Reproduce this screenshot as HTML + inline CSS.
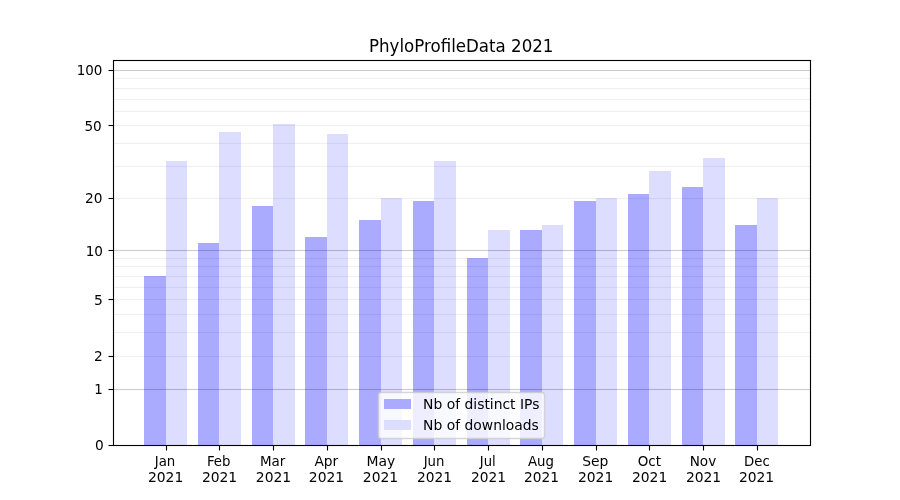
<!DOCTYPE html>
<html lang="en">
<head>
<meta charset="utf-8">
<title>PhyloProfileData 2021</title>
<style>
html,body{margin:0;padding:0;background:#fff;}
body{width:900px;height:500px;overflow:hidden;}
svg{display:block;}
text{font-family:"DejaVu Sans","Liberation Sans",sans-serif;fill:#000;}
.t10{font-size:13.8889px;}
.t12{font-size:16.6667px;}
.bar{shape-rendering:crispEdges;}
</style>
</head>
<body>
<svg width="900" height="500" viewBox="0 0 900 500">
<rect x="0" y="0" width="900" height="500" fill="#ffffff"/>
<g class="bar">
<rect x="144" y="276" width="22" height="169" fill="#aaaaff"/>
<rect x="166" y="161" width="21" height="284" fill="#ddddff"/>
<rect x="198" y="243" width="21" height="202" fill="#aaaaff"/>
<rect x="219" y="132" width="22" height="313" fill="#ddddff"/>
<rect x="252" y="206" width="21" height="239" fill="#aaaaff"/>
<rect x="273" y="124" width="22" height="321" fill="#ddddff"/>
<rect x="305" y="237" width="22" height="208" fill="#aaaaff"/>
<rect x="327" y="134" width="21" height="311" fill="#ddddff"/>
<rect x="359" y="220" width="22" height="225" fill="#aaaaff"/>
<rect x="381" y="198" width="21" height="247" fill="#ddddff"/>
<rect x="413" y="201" width="21" height="244" fill="#aaaaff"/>
<rect x="434" y="161" width="22" height="284" fill="#ddddff"/>
<rect x="467" y="258" width="21" height="187" fill="#aaaaff"/>
<rect x="488" y="230" width="22" height="215" fill="#ddddff"/>
<rect x="520" y="230" width="22" height="215" fill="#aaaaff"/>
<rect x="542" y="225" width="21" height="220" fill="#ddddff"/>
<rect x="574" y="201" width="22" height="244" fill="#aaaaff"/>
<rect x="596" y="198" width="21" height="247" fill="#ddddff"/>
<rect x="628" y="194" width="21" height="251" fill="#aaaaff"/>
<rect x="649" y="171" width="22" height="274" fill="#ddddff"/>
<rect x="682" y="187" width="21" height="258" fill="#aaaaff"/>
<rect x="703" y="158" width="22" height="287" fill="#ddddff"/>
<rect x="735" y="225" width="22" height="220" fill="#aaaaff"/>
<rect x="757" y="198" width="21" height="247" fill="#ddddff"/>
</g>
<g stroke="#000" stroke-width="1.1111" fill="none">
<g stroke-opacity="0.2">
<line x1="113.5" y1="389.5" x2="810.5" y2="389.5"/>
<line x1="113.5" y1="250.5" x2="810.5" y2="250.5"/>
<line x1="113.5" y1="70.5" x2="810.5" y2="70.5"/>
</g>
<g stroke-opacity="0.06">
<line x1="113.5" y1="78.5" x2="810.5" y2="78.5"/>
<line x1="113.5" y1="88.5" x2="810.5" y2="88.5"/>
<line x1="113.5" y1="99.5" x2="810.5" y2="99.5"/>
<line x1="113.5" y1="111.5" x2="810.5" y2="111.5"/>
<line x1="113.5" y1="125.5" x2="810.5" y2="125.5"/>
<line x1="113.5" y1="143.5" x2="810.5" y2="143.5"/>
<line x1="113.5" y1="166.5" x2="810.5" y2="166.5"/>
<line x1="113.5" y1="198.5" x2="810.5" y2="198.5"/>
<line x1="113.5" y1="258.5" x2="810.5" y2="258.5"/>
<line x1="113.5" y1="266.5" x2="810.5" y2="266.5"/>
<line x1="113.5" y1="276.5" x2="810.5" y2="276.5"/>
<line x1="113.5" y1="287.5" x2="810.5" y2="287.5"/>
<line x1="113.5" y1="299.5" x2="810.5" y2="299.5"/>
<line x1="113.5" y1="314.5" x2="810.5" y2="314.5"/>
<line x1="113.5" y1="332.5" x2="810.5" y2="332.5"/>
<line x1="113.5" y1="356.5" x2="810.5" y2="356.5"/>
</g>
<g class="bar" fill="#000" stroke="none">
<g fill-opacity="0.011">
<rect x="114" y="388" width="696" height="1"/><rect x="114" y="390" width="696" height="1"/>
<rect x="114" y="249" width="696" height="1"/><rect x="114" y="251" width="696" height="1"/>
<rect x="114" y="69" width="696" height="1"/><rect x="114" y="71" width="696" height="1"/>
</g>
<g fill-opacity="0.0036">
<rect x="114" y="77" width="696" height="1"/><rect x="114" y="79" width="696" height="1"/>
<rect x="114" y="87" width="696" height="1"/><rect x="114" y="89" width="696" height="1"/>
<rect x="114" y="98" width="696" height="1"/><rect x="114" y="100" width="696" height="1"/>
<rect x="114" y="110" width="696" height="1"/><rect x="114" y="112" width="696" height="1"/>
<rect x="114" y="124" width="696" height="1"/><rect x="114" y="126" width="696" height="1"/>
<rect x="114" y="142" width="696" height="1"/><rect x="114" y="144" width="696" height="1"/>
<rect x="114" y="165" width="696" height="1"/><rect x="114" y="167" width="696" height="1"/>
<rect x="114" y="197" width="696" height="1"/><rect x="114" y="199" width="696" height="1"/>
<rect x="114" y="257" width="696" height="1"/><rect x="114" y="259" width="696" height="1"/>
<rect x="114" y="265" width="696" height="1"/><rect x="114" y="267" width="696" height="1"/>
<rect x="114" y="275" width="696" height="1"/><rect x="114" y="277" width="696" height="1"/>
<rect x="114" y="286" width="696" height="1"/><rect x="114" y="288" width="696" height="1"/>
<rect x="114" y="298" width="696" height="1"/><rect x="114" y="300" width="696" height="1"/>
<rect x="114" y="313" width="696" height="1"/><rect x="114" y="315" width="696" height="1"/>
<rect x="114" y="331" width="696" height="1"/><rect x="114" y="333" width="696" height="1"/>
<rect x="114" y="355" width="696" height="1"/><rect x="114" y="357" width="696" height="1"/>
</g>
</g>
<line x1="166.5" y1="445.5" x2="166.5" y2="450.5"/>
<line x1="219.5" y1="445.5" x2="219.5" y2="450.5"/>
<line x1="273.5" y1="445.5" x2="273.5" y2="450.5"/>
<line x1="327.5" y1="445.5" x2="327.5" y2="450.5"/>
<line x1="381.5" y1="445.5" x2="381.5" y2="450.5"/>
<line x1="434.5" y1="445.5" x2="434.5" y2="450.5"/>
<line x1="488.5" y1="445.5" x2="488.5" y2="450.5"/>
<line x1="542.5" y1="445.5" x2="542.5" y2="450.5"/>
<line x1="596.5" y1="445.5" x2="596.5" y2="450.5"/>
<line x1="649.5" y1="445.5" x2="649.5" y2="450.5"/>
<line x1="703.5" y1="445.5" x2="703.5" y2="450.5"/>
<line x1="757.5" y1="445.5" x2="757.5" y2="450.5"/>
<line x1="113.5" y1="445.5" x2="108.5" y2="445.5"/>
<line x1="113.5" y1="389.5" x2="108.5" y2="389.5"/>
<line x1="113.5" y1="356.5" x2="108.5" y2="356.5"/>
<line x1="113.5" y1="299.5" x2="108.5" y2="299.5"/>
<line x1="113.5" y1="250.5" x2="108.5" y2="250.5"/>
<line x1="113.5" y1="198.5" x2="108.5" y2="198.5"/>
<line x1="113.5" y1="125.5" x2="108.5" y2="125.5"/>
<line x1="113.5" y1="70.5" x2="108.5" y2="70.5"/>
<rect x="113.5" y="60.5" width="697" height="385" stroke-linejoin="miter"/>
</g>
<g class="t10">
<text id="t0" class="t10" transform="translate(154.744,465.526) scale(0.9600,1.0000)">Jan</text>
<text id="t1" class="t10" transform="translate(147.901,481.578) scale(1.0000,1.0000)">2021</text>
<text id="t2" class="t10" transform="translate(206.892,465.526) scale(0.9600,1.0000)">Feb</text>
<text id="t3" class="t10" transform="translate(201.887,481.578) scale(1.0000,1.0000)">2021</text>
<text id="t4" class="t10" transform="translate(259.945,465.526) scale(0.9700,1.0000)">Mar</text>
<text id="t5" class="t10" transform="translate(255.874,481.578) scale(1.0000,1.0000)">2021</text>
<text id="t6" class="t10" transform="translate(314.395,465.526) scale(0.9900,1.0000)">Apr</text>
<text id="t7" class="t10" transform="translate(308.860,481.578) scale(1.0000,1.0000)">2021</text>
<text id="t8" class="t10" transform="translate(366.538,465.526) scale(1.0000,1.0000)">May</text>
<text id="t9" class="t10" transform="translate(362.847,481.578) scale(1.0000,1.0000)">2021</text>
<text id="t10" class="t10" transform="translate(423.656,465.526) scale(0.9600,1.0000)">Jun</text>
<text id="t11" class="t10" transform="translate(416.958,481.578) scale(0.9900,1.0000)">2021</text>
<text id="t12" class="t10" transform="translate(479.739,465.526) scale(0.9500,1.0000)">Jul</text>
<text id="t13" class="t10" transform="translate(470.945,481.578) scale(0.9900,1.0000)">2021</text>
<text id="t14" class="t10" transform="translate(527.920,465.526) scale(0.9600,1.0000)">Aug</text>
<text id="t15" class="t10" transform="translate(523.931,481.578) scale(0.9900,1.0000)">2021</text>
<text id="t16" class="t10" transform="translate(582.251,465.526) scale(1.0000,1.0000)">Sep</text>
<text id="t17" class="t10" transform="translate(577.918,481.578) scale(1.0000,1.0000)">2021</text>
<text id="t18" class="t10" transform="translate(637.695,465.526) scale(0.9700,1.0000)">Oct</text>
<text id="t19" class="t10" transform="translate(631.904,481.578) scale(1.0000,1.0000)">2021</text>
<text id="t20" class="t10" transform="translate(689.635,465.526) scale(0.9800,1.0000)">Nov</text>
<text id="t21" class="t10" transform="translate(685.891,481.578) scale(1.0000,1.0000)">2021</text>
<text id="t22" class="t10" transform="translate(743.987,465.526) scale(0.9600,1.0000)">Dec</text>
<text id="t23" class="t10" transform="translate(738.877,481.578) scale(1.0000,1.0000)">2021</text>
<text id="t24" class="t10" transform="translate(103.778,449.527) scale(0.9900,1.0000)" text-anchor="end">0</text>
<text id="t25" class="t10" transform="translate(102.778,393.685) scale(0.9600,1.0000)" text-anchor="end">1</text>
<text id="t26" class="t10" transform="translate(102.778,360.727) scale(0.9900,1.0000)" text-anchor="end">2</text>
<text id="t27" class="t10" transform="translate(102.778,304.635) scale(1.0000,1.0000)" text-anchor="end">5</text>
<text id="t28" class="t10" transform="translate(103.028,255.615) scale(0.9800,1.0000)" text-anchor="end">10</text>
<text id="t29" class="t10" transform="translate(102.528,202.555) scale(0.9900,1.0000)" text-anchor="end">20</text>
<text id="t30" class="t10" transform="translate(101.778,130.681) scale(0.9800,1.0000)" text-anchor="end">50</text>
<text id="t31" class="t10" transform="translate(102.403,74.640) scale(0.9700,1.0000)" text-anchor="end">100</text>
</g>
<text id="t32" class="t12" transform="translate(461.250,51.667) scale(1.0000,1.1000)" text-anchor="middle">PhyloProfileData 2021</text>
<path d="M 381.278 438.5 L 541.722 438.5 Q 544.5 438.5 544.5 435.722 L 544.5 395.278 Q 544.5 392.5 541.722 392.5 L 381.278 392.5 Q 378.5 392.5 378.5 395.278 L 378.5 435.722 Q 378.5 438.5 381.278 438.5 z" fill="#ffffff" stroke="#cccccc" stroke-width="1.3889" stroke-linejoin="miter" fill-opacity="0.8" stroke-opacity="0.8"/>
<g class="bar">
<rect x="384" y="399" width="27" height="10" fill="#aaaaff"/>
<rect x="384" y="420" width="27" height="10" fill="#ddddff"/>
</g>
<g class="t10">
<text id="t33" class="t10" transform="translate(423.120,408.725) scale(1.0000,1.0000)">Nb of distinct IPs</text>
<text id="t34" class="t10" transform="translate(423.120,429.612) scale(1.0000,1.0000)">Nb of downloads</text>
</g>
</svg>
</body>
</html>
